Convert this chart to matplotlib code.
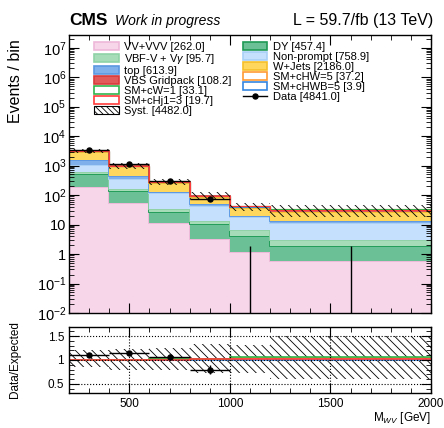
import numpy as np
import matplotlib
matplotlib.use("Agg")
import matplotlib.pyplot as plt
from matplotlib.patches import Patch
from matplotlib.lines import Line2D
from matplotlib.ticker import FixedLocator, FuncFormatter, LogLocator, MultipleLocator, NullFormatter

plt.rcParams['font.family'] = ['Liberation Sans', 'DejaVu Sans']
plt.rcParams['mathtext.fontset'] = 'custom'
plt.rcParams['mathtext.rm'] = 'Liberation Sans'
plt.rcParams['mathtext.it'] = 'Liberation Sans:italic'
plt.rcParams['hatch.linewidth'] = 0.6

# bins in M_WV [GeV]
edges = [200, 400, 600, 800, 1000, 1200, 2000]

# background stack (bottom -> top), events per bin
vv_vvv = [189.5, 56.0, 11.5, 3.2, 1.2, 0.6]
dy = [350.3, 80.0, 16.0, 7.0, 2.8, 1.3]
vbf_v = [55.0, 28.0, 6.5, 2.8, 2.3, 1.1]
nonprompt = [443.0, 184.0, 82.0, 30.0, 11.4, 8.5]
top = [475.0, 111.0, 16.0, 8.0, 2.3, 1.6]
wjets = [1490.0, 496.5, 135.0, 34.0, 16.5, 14.0]
vbs = [55.0, 25.0, 12.0, 8.0, 4.0, 4.2]

# EFT variations (added on top of the total)
sm_cw1 = [16.2, 7.5, 3.5, 2.0, 2.2, 1.7]
sm_chj13 = [9.0, 4.5, 2.3, 1.75, 1.2, 0.95]
sm_chw5 = [20.0, 9.0, 3.5, 1.85, 1.6, 1.25]
sm_chwb5 = [2.0, 1.0, 0.4, 0.2, 0.15, 0.15]

data = [3350, 1118, 299, 74, 0, 0]

# relative syst. uncertainty (up / down)
syst_up = [0.22, 0.24, 0.26, 0.33, 0.32, 0.50]
syst_dn = [0.15, 0.20, 0.21, 0.28, 0.28, 0.41]

stack = [
    ("VV+VVV [262.0]", vv_vvv, "#f7d6ea", "#eeb8d8"),
    ("DY [457.4]", dy, "#6cc096", "#1e9a55"),
    ("VBF-V + V$\\gamma$ [95.7]", vbf_v, "#a6dcb8", "#8fd3a6"),
    ("Non-prompt [758.9]", nonprompt, "#c4e0fd", "#a9d0f7"),
    ("top [613.9]", top, "#7fb0ec", "#5b97e0"),
    ("W+Jets [2186.0]", wjets, "#ffd75c", "#f6c02a"),
    ("VBS Gridpack [108.2]", vbs, "#e25a5a", "#d83a3a"),
]
# drawn in this order, red ends on top
eft = [
    ("SM+cHWB=5 [3.9]", sm_chwb5, "#3585e0"),
    ("SM+cHW=5 [37.2]", sm_chw5, "#ff9933"),
    ("SM+cW=1 [33.1]", sm_cw1, "#2fb44a"),
    ("SM+cHj1=3 [19.7]", sm_chj13, "#ff3b3b"),
]

edges_a = np.array(edges, dtype=float)
centers = 0.5 * (edges_a[1:] + edges_a[:-1])
widths = np.diff(edges_a)
data_a = np.array(data, dtype=float)

fig = plt.figure(figsize=(4.44, 4.28), dpi=100)
ax = fig.add_axes([0.1554, 0.2687, 0.8153, 0.6495])
rax = fig.add_axes([0.1554, 0.0811, 0.8153, 0.1556])

bottom = np.zeros(len(centers))
handles = {}
for label, vals, fc, ec in stack:
    topv = bottom + np.array(vals)
    ax.stairs(topv, edges_a, baseline=bottom, fill=True, color=fc, lw=0)
    ax.stairs(topv, edges_a, baseline=None, color=ec, lw=1.3)
    handles[label] = Patch(facecolor=fc, edgecolor=ec, lw=1.2)
    bottom = topv
total = bottom

for label, vals, c in eft:
    ax.stairs(total + np.array(vals), edges_a, baseline=None, color=c, lw=0.8)
    handles[label] = Patch(facecolor="white", edgecolor=c, lw=1.2)

# syst band
up = total * (1 + np.array(syst_up))
dn = total * (1 - np.array(syst_dn))
ax.bar(centers, up - dn, bottom=dn, width=widths, fill=False, hatch=r"\\\\",
       edgecolor="black", lw=0)
handles["Syst. [4482.0]"] = Patch(facecolor="white", edgecolor="black", hatch=r"\\\\\\", lw=0.8)

# data
err_lo = np.sqrt(data_a)
err_hi = np.where(data_a == 0, 1.841, np.sqrt(data_a))
ax.errorbar(centers, data_a, xerr=widths / 2, yerr=[err_lo, err_hi], fmt="o",
            color="black", ms=3.6, lw=1.0, capsize=0)
handles["Data [4841.0]"] = Line2D([], [], color="black", marker="o", ms=3.6, lw=1.0)

ax.set_yscale("log")
ax.set_xlim(200, 2000)
ax.set_ylim(1e-2, 2.7e7)


def ylab(v, pos):
    n = int(round(np.log10(v)))
    if n == 1:
        return "10"
    if n == 0:
        return "1"
    return "$10^{%d}$" % n


ax.yaxis.set_major_locator(FixedLocator([10.0 ** k for k in range(-2, 8)]))
ax.yaxis.set_major_formatter(FuncFormatter(ylab))
ax.yaxis.set_minor_locator(LogLocator(base=10, subs=np.arange(2, 10), numticks=30))
ax.yaxis.set_minor_formatter(NullFormatter())
ax.xaxis.set_major_locator(MultipleLocator(500))
ax.xaxis.set_minor_locator(MultipleLocator(100))
for a in (ax, rax):
    a.tick_params(which="both", direction="in", top=True, right=True)
    a.tick_params(which="major", length=7, width=0.8)
    a.tick_params(which="minor", length=3.5, width=0.6)
    for s in a.spines.values():
        s.set_linewidth(1.0)
ax.tick_params(axis="x", labelbottom=False)
ax.tick_params(axis="y", labelsize=10.5, pad=2)

order = ["VV+VVV [262.0]", "VBF-V + V$\\gamma$ [95.7]", "top [613.9]", "VBS Gridpack [108.2]",
         "SM+cW=1 [33.1]", "SM+cHj1=3 [19.7]", "Syst. [4482.0]",
         "DY [457.4]", "Non-prompt [758.9]", "W+Jets [2186.0]", "SM+cHW=5 [37.2]",
         "SM+cHWB=5 [3.9]", "Data [4841.0]"]
ax.legend([handles[k] for k in order], order, ncol=2, loc="upper left",
          bbox_to_anchor=(0.05, 1.0), frameon=False, fontsize=8.0,
          handlelength=2.2, handleheight=0.75, labelspacing=0.0,
          handletextpad=0.5, columnspacing=1.0, borderaxespad=0.25)

# ratio panel
rax.bar(centers, np.array(syst_up) + np.array(syst_dn), bottom=1 - np.array(syst_dn),
        width=widths, fill=False, hatch=r"\\\\", edgecolor="black", lw=0)
for label, vals, c in eft:
    rax.stairs((total + np.array(vals)) / total, edges_a, baseline=None, color=c, lw=1.2)
mask = data_a > 0
rax.errorbar(centers[mask], data_a[mask] / total[mask], xerr=widths[mask] / 2,
             yerr=np.sqrt(data_a[mask]) / total[mask], fmt="o", color="black",
             ms=3.6, lw=1.0, capsize=0)
rax.set_xlim(200, 2000)
rax.set_ylim(0.3, 1.7)
rax.yaxis.set_major_locator(FixedLocator([0.5, 1.0, 1.5]))
rax.yaxis.set_major_formatter(FuncFormatter(lambda v, p: "%g" % v))
rax.yaxis.set_minor_locator(MultipleLocator(0.1))
rax.xaxis.set_major_locator(MultipleLocator(500))
rax.xaxis.set_minor_locator(MultipleLocator(100))
rax.grid(True, which="major", linestyle=":", color="black", lw=0.8)
rax.tick_params(axis="both", labelsize=8.5)

fig.text(0.034, 0.81, "Events / bin", rotation=90, fontsize=11.5, ha="center", va="center")
fig.text(0.034, 0.159, "Data/Expected", rotation=90, fontsize=8.5, ha="center", va="center")
fig.text(0.971, 0.004, "M$_{WV}$ [GeV]", fontsize=8.5, ha="right", va="bottom")

fig.text(0.155, 0.941, "CMS", fontsize=12.5, fontweight="bold", ha="left", va="baseline")
fig.text(0.259, 0.941, "Work in progress", fontsize=10, style="italic", ha="left", va="baseline")
fig.text(0.975, 0.941, "L = 59.7/fb (13 TeV)", fontsize=11.5, ha="right", va="baseline")

fig.savefig("out.png", dpi=100)
